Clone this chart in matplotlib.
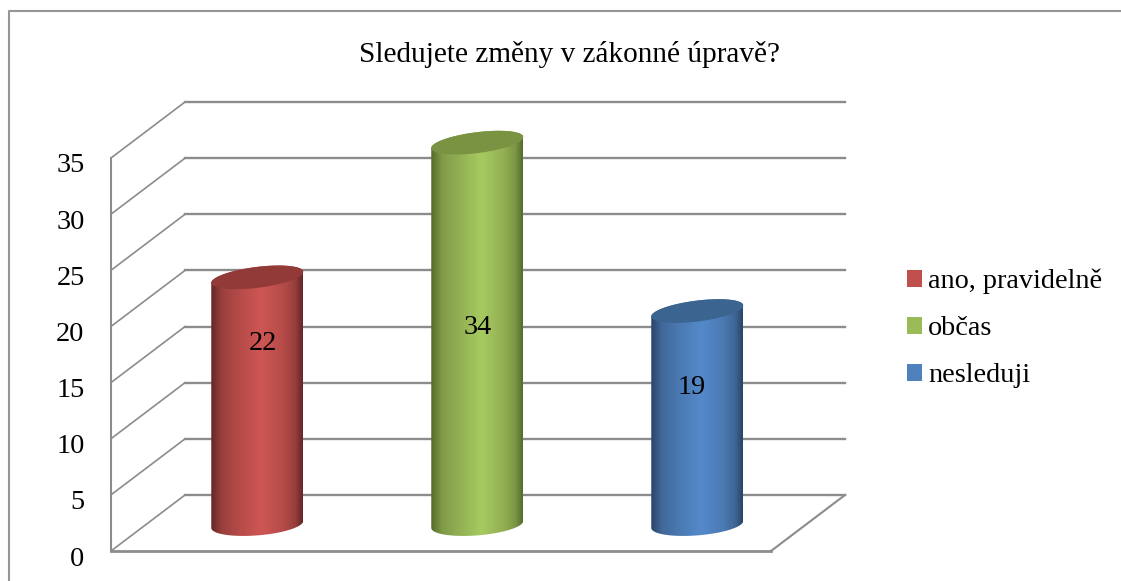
"""
3D looking cylinder chart, drawn on a flat axes with a fixed oblique depth
"""

import matplotlib
matplotlib.use("Agg")
import matplotlib.pyplot as plt
import matplotlib.patches as patches
from matplotlib.lines import Line2D
from matplotlib.path import Path
from matplotlib.transforms import ScaledTranslation
import numpy as np

title = "Sledujete změny v zákonné úpravě?"
categories = ["ano, pravidelně", "občas", "nesleduji"]
values = [22, 34, 19]
yticks = [0, 5, 10, 15, 20, 25, 30, 35]

base_colors = ["#C0504D", "#9BBB59", "#4F81BD"]
bright_colors = ["#CE5654", "#A6CA60", "#5489CB"]
top_colors = ["#923A38", "#7A9343", "#3C6491"]
dark_colors = ["#642826", "#566B2C", "#2B4468"]
# where the value label sits on the cylinder, and its sideways shift in px
label_fracs = [0.74, 0.52, 0.65]
label_shift = [6, 0, -6]

W, H = 1121, 581
LEFT, RIGHT, BOTTOM, TOP = 111, 771, 551, 158  # front plane in px
DEPTH_X, DEPTH_Y = 74, 56  # px from front plane to back wall
GRAY = "#8c8c8c"
FONT = "Liberation Serif"
FONTSIZE = 20.3

px_x = (RIGHT - LEFT) / len(values)
px_y = (BOTTOM - TOP) / yticks[-1]
dx = DEPTH_X / px_x
dy = DEPTH_Y / px_y


def draw_walls(ax):
    """Gridlines on the back wall and side wall, plus the floor"""
    n = len(values)
    for t in yticks:
        ax.plot([0, dx], [t, t + dy], color=GRAY, lw=1.2, clip_on=False, zorder=1)
        ax.plot([dx, n + dx], [t + dy, t + dy], color=GRAY, lw=1.7, clip_on=False, zorder=1)
    ax.plot([0, n], [0, 0], color=GRAY, lw=2, clip_on=False, zorder=1)
    ax.plot([n, n + dx], [0, dy], color=GRAY, lw=1.5, clip_on=False, zorder=1)


def cylinder(ax, x, value, i):
    """One cylinder, shaded across its width, tilted ellipses at both ends"""
    a = 46 / px_x
    b_low = 11 / px_y
    b_top = 10.5 / px_y
    tilt_low = 3.5 / px_y
    tilt_top = 5.5 / px_y
    x = x + 0.49 * dx
    cy0 = 0.475 * dy
    t_low = np.linspace(np.pi, 2 * np.pi, 60)
    t_up = np.linspace(0, np.pi, 60)
    low = np.column_stack([x + a * np.cos(t_low),
                           cy0 + tilt_low * np.cos(t_low) + b_low * np.sin(t_low)])
    up = np.column_stack([x + a * np.cos(t_up),
                          cy0 + value + tilt_top * np.cos(t_up) + b_top * np.sin(t_up)])
    body = patches.PathPatch(Path(np.vstack([low, up, low[:1]])), fc="none", ec="none",
                             transform=ax.transData, clip_on=False)
    ax.add_patch(body)

    dark = np.array(matplotlib.colors.to_rgb(dark_colors[i]))
    base = np.array(matplotlib.colors.to_rgb(base_colors[i]))
    bright = np.array(matplotlib.colors.to_rgb(bright_colors[i]))
    stops = np.array([0, 0.12, 0.32, 0.55, 0.78, 0.92, 1])
    cols = np.array([dark, dark * 0.4 + base * 0.6, base * 0.95, bright,
                     base * 0.95, dark * 0.45 + base * 0.55, dark])
    s = np.linspace(0, 1, 128)
    grad = np.stack([np.interp(s, stops, cols[:, k]) for k in range(3)], axis=1)[None, :, :]
    im = ax.imshow(grad, extent=(x - a, x + a, cy0 - 2 * b_low, cy0 + value + 2 * b_top),
                   aspect="auto", interpolation="bilinear", zorder=3)
    # the cylinders stick out above the axes, so clip on the figure and the body only
    im.set_clip_box(ax.figure.bbox)
    im.set_clip_path(body)

    t_all = np.linspace(0, 2 * np.pi, 120)
    ax.fill(x + a * np.cos(t_all), cy0 + value + tilt_top * np.cos(t_all) + b_top * np.sin(t_all),
            color=top_colors[i], lw=0, clip_on=False, zorder=4)

    ax.annotate(str(value), (x, cy0 + label_fracs[i] * value),
                xytext=(label_shift[i] * 0.72, -2 * 0.72), textcoords="offset points",
                ha="center", va="center", fontsize=FONTSIZE, family=FONT,
                color="black", zorder=5, annotation_clip=False)


fig = plt.figure(figsize=(W / 100, H / 100), dpi=100, facecolor="white")
ax = fig.add_axes([LEFT / W, 1 - BOTTOM / H, (RIGHT - LEFT) / W, (BOTTOM - TOP) / H])
ax.patch.set_visible(False)

draw_walls(ax)
xs = np.arange(len(values)) + 0.5
for i in range(len(values)):
    cylinder(ax, xs[i], values[i], i)

ax.set_xlim(0, len(values))
ax.set_ylim(0, yticks[-1])
ax.set_xticks([])
ax.set_yticks(yticks)
ax.tick_params(axis="y", length=0, pad=19, labelsize=FONTSIZE, labelfontfamily=FONT)
# tick labels sit a little under their gridline
shift = ScaledTranslation(0, -5 / 100, fig.dpi_scale_trans)
for lab in ax.get_yticklabels():
    lab.set_transform(lab.get_transform() + shift)
for s in ["top", "right", "bottom"]:
    ax.spines[s].set_visible(False)
ax.spines["left"].set_color(GRAY)
ax.spines["left"].set_linewidth(1.5)

fig.text(569.5 / W, 1 - 55 / H, title, ha="center", va="center",
         fontsize=21.1, family=FONT)

handles = [patches.Patch(fc=c, ec="none") for c in base_colors]
fig.legend(handles, categories, loc="upper left", bbox_to_anchor=(907 / W, 1 - 269 / H),
           frameon=False, prop={"family": FONT, "size": FONTSIZE}, borderpad=0, borderaxespad=0,
           handlelength=0.53, handleheight=0.53, handletextpad=0.21, labelspacing=0.776)

# outer frame of the chart, only the top and left edge are in the picture
fig.add_artist(Line2D([9 / W, 9 / W, 1], [0, 1 - 11 / H, 1 - 11 / H], color="#969696", lw=1.5))

fig.savefig("out.png", dpi=100)
